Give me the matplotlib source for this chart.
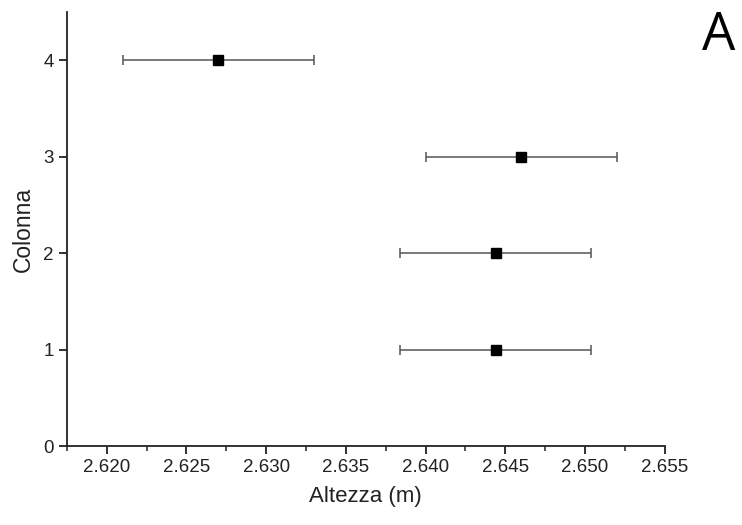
import matplotlib
matplotlib.use("Agg")
import matplotlib.pyplot as plt
from matplotlib.ticker import MultipleLocator, FormatStrFormatter

plt.rcParams['font.family'] = ['Liberation Sans', 'DejaVu Sans']

# dati
colonna = [1, 2, 3, 4]
altezza = [2.6444, 2.6444, 2.6460, 2.6270]
errore = [0.0060, 0.0060, 0.0060, 0.0060]

fig = plt.figure(figsize=(7.42, 5.25), dpi=100)
ax = fig.add_axes([0.090, 0.150, 0.806, 0.827])

ax.errorbar(altezza, colonna, xerr=errore, fmt='s', color='black',
            ecolor='#555555', elinewidth=1.1, capsize=3.5, capthick=1.1,
            markersize=7)

ax.set_xlim(2.6175, 2.655)
ax.set_ylim(0, 4.5)
ax.xaxis.set_major_locator(MultipleLocator(0.005))
ax.xaxis.set_minor_locator(MultipleLocator(0.0025))
ax.yaxis.set_major_locator(MultipleLocator(1))
ax.xaxis.set_major_formatter(FormatStrFormatter('%.3f'))

for s in ['top', 'right']:
    ax.spines[s].set_visible(False)
for s in ['left', 'bottom']:
    ax.spines[s].set_linewidth(1.3)
    ax.spines[s].set_color('#222222')

ax.tick_params(which='major', direction='out', length=6, width=1.3,
               labelsize=13.5, colors='#222222')
ax.tick_params(which='minor', direction='out', length=3.5, width=1.1,
               colors='#222222')

ax.set_xlabel('Altezza (m)', fontsize=16, color='#222222', labelpad=7)
ax.set_ylabel('Colonna', fontsize=16.5, color='#222222', labelpad=6)

fig.text(0.969, 0.930, 'A', fontsize=38, family=['Open Sans', 'DejaVu Sans'],
         ha='center', va='center')

fig.savefig('out.png', dpi=100)
